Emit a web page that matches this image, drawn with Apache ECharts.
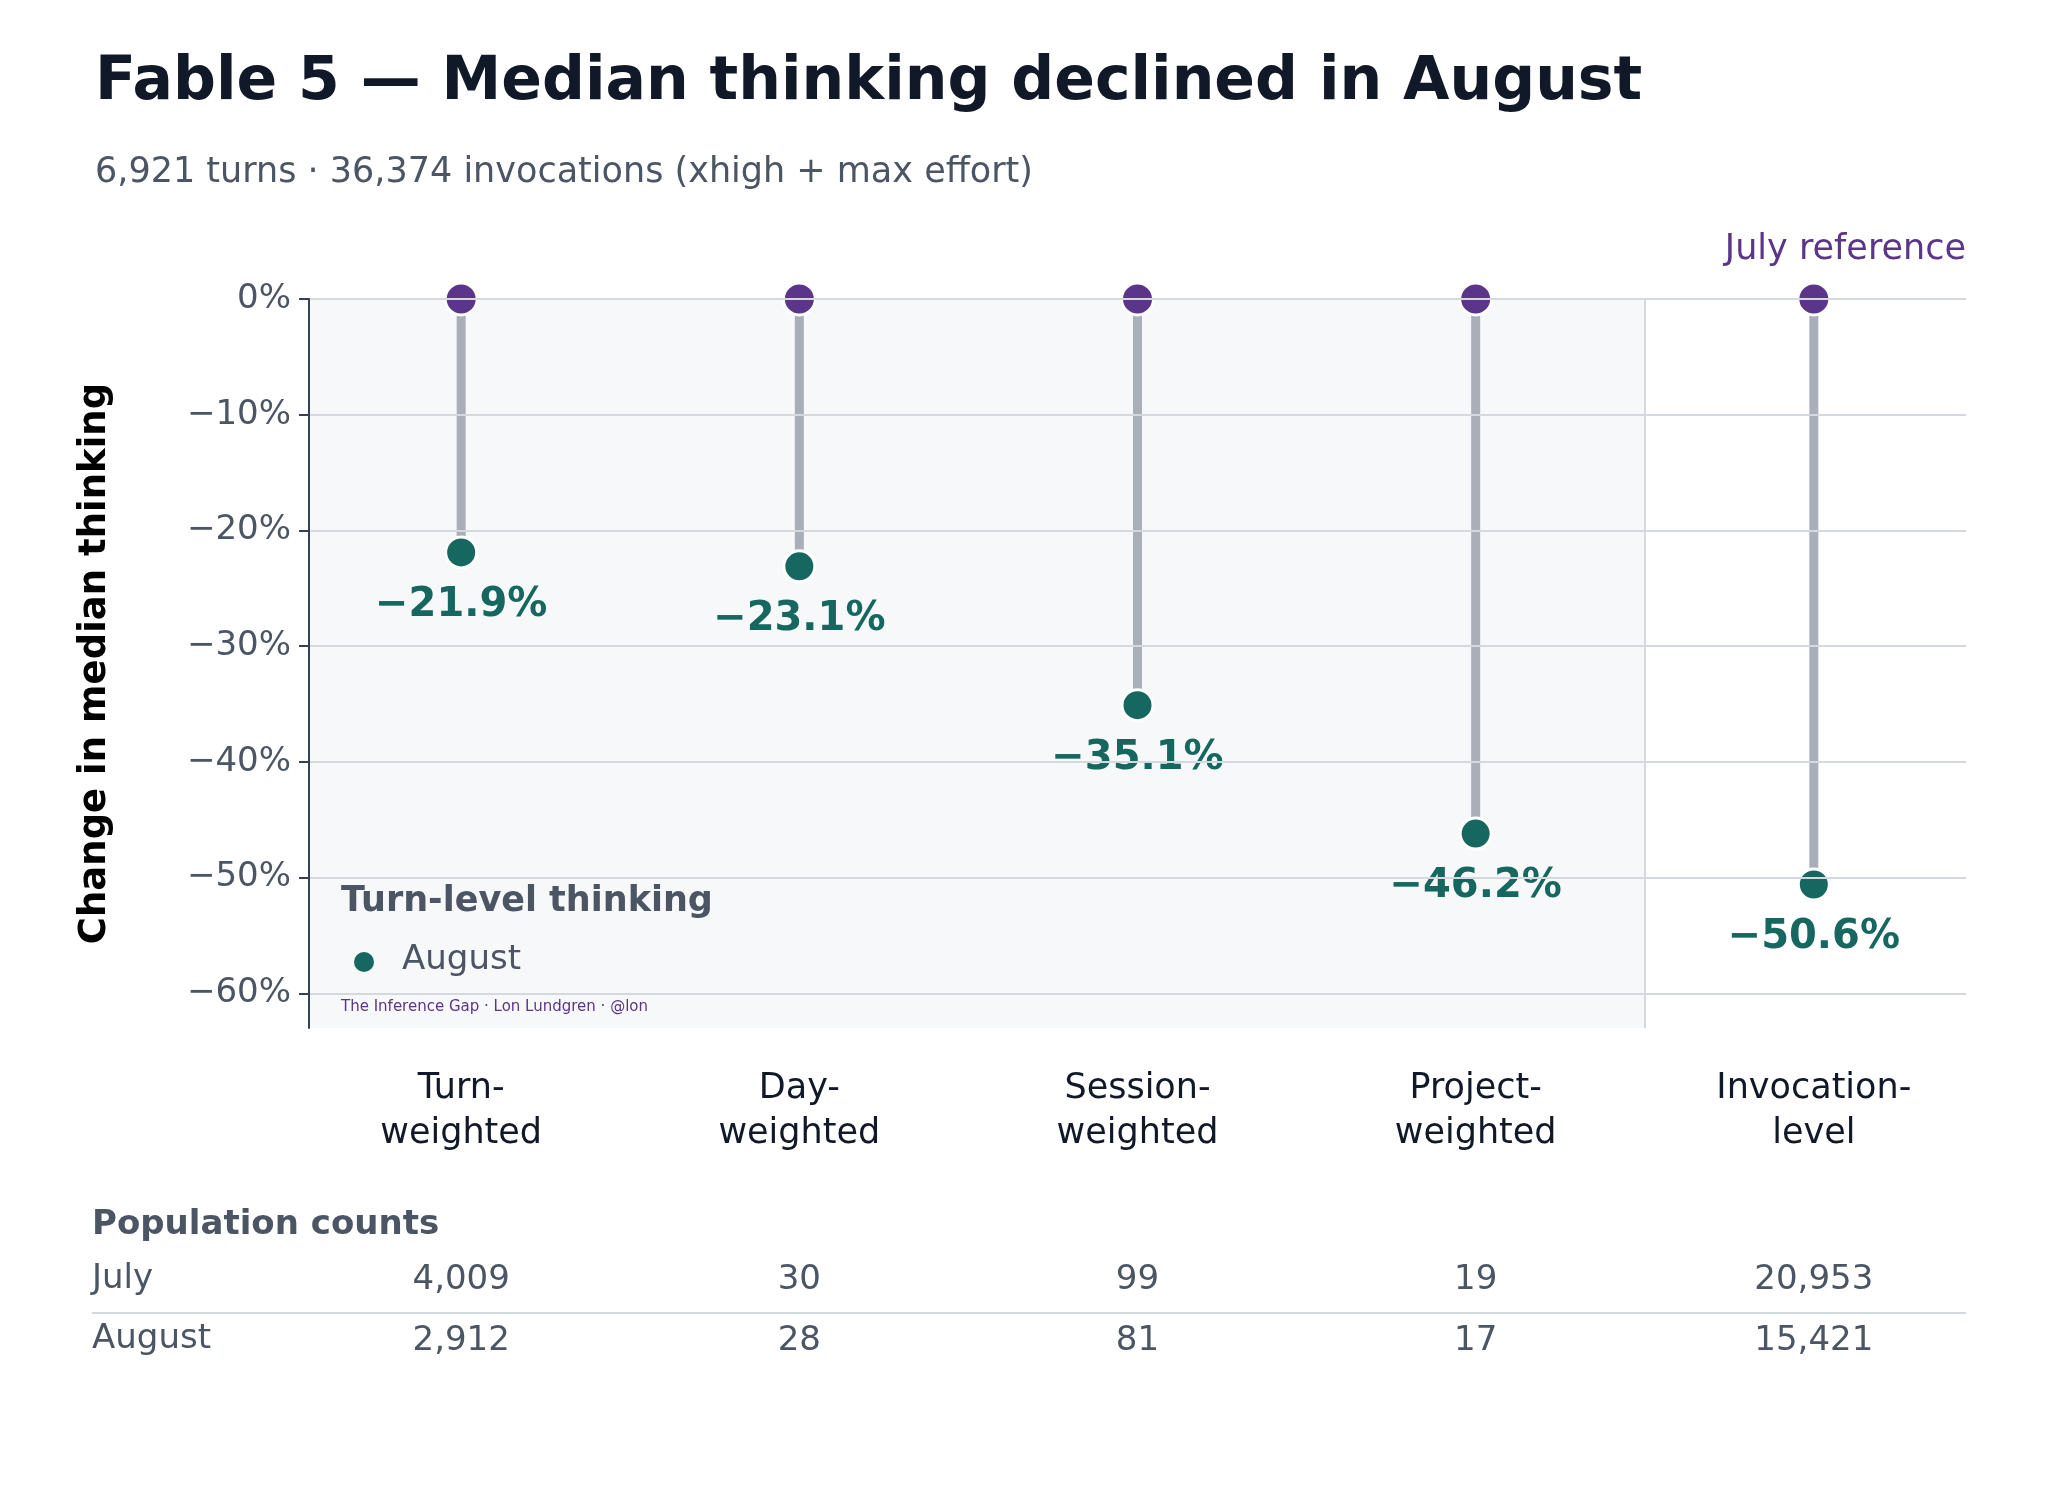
<!DOCTYPE html>
<html><head><meta charset="utf-8">
<script src="https://cdn.jsdelivr.net/npm/echarts@6/dist/echarts.min.js"></script>
<style>html,body{margin:0;background:#fff}#main{width:2048px;height:1511px}</style>
</head><body><div id="main"></div>
<script>
var categories = ['Turn-\nweighted', 'Day-\nweighted', 'Session-\nweighted', 'Project-\nweighted', 'Invocation-\nlevel'];
var augustChange = [-21.9, -23.1, -35.1, -46.2, -50.6];
var julyCounts = ['4,009', '30', '99', '19', '20,953'];
var augustCounts = ['2,912', '28', '81', '17', '15,421'];
var yTicks = [0, -10, -20, -30, -40, -50, -60];

var PURPLE = '#5b3589', GREEN = '#15675f', FONT = 'DejaVu Sans';
var chart = echarts.init(document.getElementById('main'));

var stems = augustChange.map(function (v, i) { return [i, v]; });
var julyPts = augustChange.map(function (v, i) { return [i, 0]; });
var augPts = augustChange.map(function (v, i) {
  return { value: [i, v], label: { backgroundColor: i === 4 ? '#ffffff' : '#f7f8f9' } };
});

var option = {
  backgroundColor: '#fff',
  textStyle: { fontFamily: FONT },
  title: {
    text: 'Fable 5 — Median thinking declined in August',
    subtext: '6,921 turns · 36,374 invocations (xhigh + max effort)',
    left: 90, top: 48, itemGap: 42,
    textStyle: { fontSize: 60, fontWeight: 'bold', color: '#111827', fontFamily: FONT },
    subtextStyle: { fontSize: 35, color: '#4b5563', fontFamily: FONT }
  },
  grid: { left: 309, right: 82, top: 299, bottom: 483 },
  xAxis: {
    type: 'value', min: -0.45, max: 4.45,
    splitLine: { show: false }, axisLine: { show: false }, axisTick: { show: false },
    axisLabel: {
      customValues: [0, 1, 2, 3, 4], margin: 38, lineHeight: 45,
      fontSize: 35, color: '#111827',
      formatter: function (v) { return categories[Math.round(v)]; }
    }
  },
  yAxis: {
    type: 'value', min: -63, max: 0, z: 10,
    name: 'Change in median thinking', nameLocation: 'middle', nameGap: 195,
    nameTextStyle: { fontSize: 37, fontWeight: 'bold', color: '#000' },
    axisLine: { show: true, onZero: false, lineStyle: { color: '#374151', width: 2 } },
    axisTick: { show: true, customValues: yTicks, length: 10, lineStyle: { color: '#374151', width: 2 } },
    axisLabel: {
      customValues: yTicks, fontSize: 34, color: '#4b5563', margin: 18,
      formatter: function (v) { return (v < 0 ? '\u2212' + (-v) : v) + '%'; }
    },
    splitLine: { show: true, lineStyle: { color: '#d5d8dd', width: 2 } }
  },
  series: [
    {
      type: 'bar', data: stems, barWidth: 9, itemStyle: { color: '#a9aeb8', opacity: 1 }, z: 2,
      markArea: {
        silent: true, itemStyle: { color: 'rgba(200,206,214,0.14)' },
        data: [[{ xAxis: -0.45, yAxis: 0 }, { xAxis: 3.5, yAxis: -63 }]]
      },
      markLine: {
        silent: true, symbol: 'none', label: { show: false },
        data: [
          { xAxis: 3.5, lineStyle: { color: '#d5d8dd', width: 2, type: 'solid' } },
          { yAxis: 0, lineStyle: { color: PURPLE, width: 2, type: 'solid' } }
        ]
      }
    },
    {
      type: 'scatter', data: julyPts, symbolSize: 32, clip: false, z: 4,
      itemStyle: { color: PURPLE, borderColor: '#fff', borderWidth: 3, opacity: 1 }
    },
    {
      type: 'scatter', data: augPts, symbolSize: 31, z: 5,
      itemStyle: { color: GREEN, borderColor: '#fff', borderWidth: 3, opacity: 1 },
      label: {
        show: true, position: 'bottom', distance: 12, fontSize: 40, fontWeight: 'bold',
        color: GREEN, padding: [4, 14],
        formatter: function (p) { return '\u2212' + (-p.value[1]).toFixed(1) + '%'; }
      }
    }
  ]
};
chart.setOption(option);

var g = [
  { type: 'text', right: 82, top: 232, style: { text: 'July reference', fill: PURPLE, font: '35px "DejaVu Sans"' } },
  { type: 'text', x: 341, y: 884, style: { text: 'Turn-level thinking', fill: '#4b5563', font: 'bold 35px "DejaVu Sans"' } },
  { type: 'circle', shape: { cx: 364, cy: 962, r: 10 }, style: { fill: GREEN } },
  { type: 'text', x: 402, y: 943, style: { text: 'August', fill: '#4b5563', font: '34px "DejaVu Sans"' } },
  { type: 'text', x: 341, y: 1000, style: { text: 'The Inference Gap · Lon Lundgren · @lon', fill: PURPLE, font: '15px "DejaVu Sans"' } },
  { type: 'text', x: 92, y: 1208, style: { text: 'Population counts', fill: '#4b5563', font: 'bold 34px "DejaVu Sans"' } },
  { type: 'text', x: 92, y: 1262, style: { text: 'July', fill: '#4b5563', font: '34px "DejaVu Sans"' } },
  { type: 'text', x: 92, y: 1322, style: { text: 'August', fill: '#4b5563', font: '34px "DejaVu Sans"' } },
  { type: 'line', shape: { x1: 92, y1: 1313, x2: 1966, y2: 1313 }, style: { stroke: '#d5d8dd', lineWidth: 2 } }
];
for (var i = 0; i < categories.length; i++) {
  var x = chart.convertToPixel({ gridIndex: 0 }, [i, 0])[0];
  g.push({ type: 'text', x: x, y: 1280, style: { text: julyCounts[i], fill: '#4b5563', font: '34px "DejaVu Sans"', align: 'center', verticalAlign: 'middle' } });
  g.push({ type: 'text', x: x, y: 1341, style: { text: augustCounts[i], fill: '#4b5563', font: '34px "DejaVu Sans"', align: 'center', verticalAlign: 'middle' } });
}
g.forEach(function (e) { e.z = 100; });
chart.setOption({ graphic: g });
</script>
</body></html>
